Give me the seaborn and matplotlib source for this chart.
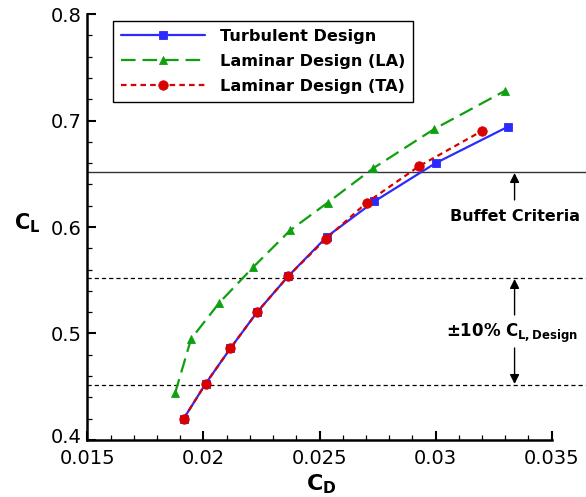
import matplotlib
matplotlib.use("Agg")
import matplotlib.pyplot as plt
import matplotlib.transforms as mtransforms
import seaborn as sns
import pandas as pd
from matplotlib.ticker import MultipleLocator

# Drag polar data: lift coefficient vs drag coefficient
cd_turb = [0.01915, 0.0201, 0.02116, 0.02231, 0.02366, 0.02532, 0.02736, 0.0300, 0.0331]
cl_turb = [0.420, 0.453, 0.486, 0.520, 0.554, 0.591, 0.624, 0.660, 0.694]

cd_la = [0.01878, 0.01947, 0.02069, 0.02213, 0.02374, 0.02536, 0.0273, 0.02994, 0.0330]
cl_la = [0.444, 0.495, 0.529, 0.562, 0.597, 0.623, 0.655, 0.692, 0.728]

cd_ta = [0.01915, 0.0201, 0.02116, 0.02231, 0.02366, 0.02528, 0.02704, 0.02928, 0.03198]
cl_ta = [0.420, 0.453, 0.486, 0.520, 0.554, 0.589, 0.623, 0.657, 0.690]

series_names = ["Turbulent Design", "Laminar Design (LA)", "Laminar Design (TA)"]

# Reference lift levels
cl_buffet = 0.652
cl_band = [0.452, 0.552]

sns.set_style("ticks")
plt.rcParams["font.family"] = ["DejaVu Sans"]
plt.rcParams["mathtext.fontset"] = "dejavusans"
plt.rcParams["lines.scale_dashes"] = False
for key in ["text.color", "axes.labelcolor", "xtick.color", "ytick.color",
            "axes.edgecolor"]:
    plt.rcParams[key] = "black"

fig = plt.figure(figsize=(5.86, 4.97), dpi=100)
ax = fig.add_axes([0.149, 0.1147, 0.7925, 0.8571])

styles = [
    dict(color="#2b2bff", marker="s", ms=5.6, ls="-"),
    dict(color="#0fa00f", marker="^", ms=6.2, ls=(0, (10.5, 5.0))),
    dict(color="#d80000", marker="o", ms=6.8, ls=(0, (4.0, 3.0))),
]
for name, cd, cl, st in zip(series_names, [cd_turb, cd_la, cd_ta],
                            [cl_turb, cl_la, cl_ta], styles):
    df = pd.DataFrame({"CD": cd, "CL": cl})
    sns.lineplot(data=df, x="CD", y="CL", ax=ax, sort=False, estimator=None,
                 color=st["color"], marker=st["marker"], markersize=st["ms"],
                 markeredgecolor=st["color"], markeredgewidth=0.6,
                 linestyle=st["ls"], linewidth=1.6, label=name, zorder=3)

# Buffet criterion and design lift band
ax.axhline(cl_buffet, xmin=0, xmax=1.075, color="#333333", lw=1.0,
           clip_on=False, zorder=2)
for y in cl_band:
    ax.axhline(y, xmin=0, xmax=1.075, color="black", lw=0.9,
               ls=(0, (3.0, 2.2)), clip_on=False, zorder=2)

arrow_kw = dict(arrowstyle="-|>", color="black", lw=1.0,
                mutation_scale=14, shrinkA=0, shrinkB=0)
ax.annotate("", xy=(0.0334, 0.6507), xytext=(0.0334, 0.6254),
            arrowprops=arrow_kw)
ax.annotate("", xy=(0.0334, 0.5512), xytext=(0.0334, 0.5174),
            arrowprops=arrow_kw)
ax.annotate("", xy=(0.0334, 0.4526), xytext=(0.0334, 0.4864),
            arrowprops=arrow_kw)

ax.text(0.0334, 0.6103, "Buffet Criteria", ha="center", va="center",
        fontsize=11.5, fontweight="bold")
ax.text(0.0333, 0.5005, r"$\mathbf{\pm 10\%\ C_{L,Design}}$", ha="center",
        va="center", fontsize=12)

ax.set_xlim(0.015, 0.035)
ax.set_ylim(0.4, 0.8)
ax.xaxis.set_minor_locator(MultipleLocator(0.001))
ax.yaxis.set_minor_locator(MultipleLocator(0.02))
ax.set_xticks([0.015, 0.02, 0.025, 0.03, 0.035])
ax.set_xticklabels(["0.015", "0.02", "0.025", "0.03", "0.035"])
ax.set_yticks([0.4, 0.5, 0.6, 0.7, 0.8])
ax.set_yticklabels(["0.4", "0.5", "0.6", "0.7", "0.8"])

ax.tick_params(which="both", direction="in", top=False, right=False,
               color="black", labelcolor="black", labelsize=14)
ax.tick_params(which="major", length=6.5, width=1.5)
ax.tick_params(which="minor", length=3.6, width=0.9)
ax.tick_params(axis="x", which="major", pad=6.3)
ax.tick_params(axis="y", which="major", pad=4)

# lift the lowest y label slightly so it clears the first x label
lowest = ax.get_yticklabels()[0]
lowest.set_transform(lowest.get_transform() +
                     mtransforms.ScaledTranslation(0, 3 / 72, fig.dpi_scale_trans))

for side in ["top", "right"]:
    ax.spines[side].set_visible(False)
for side in ["left", "bottom"]:
    ax.spines[side].set_linewidth(1.8)
    ax.spines[side].set_color("black")

ax.set_xlabel(r"$\mathbf{C_D}$", fontsize=16)
ax.xaxis.set_label_coords(0.503, -0.077)
ax.set_ylabel(r"$\mathbf{C_L}$", fontsize=15, rotation=0, ha="center",
              va="center")
ax.yaxis.set_label_coords(-0.129, 0.508)

leg = ax.legend(loc="upper left", bbox_to_anchor=(0.0547, 0.9836),
                frameon=True, fancybox=False, framealpha=1, edgecolor="black",
                prop=dict(weight="bold", size=11.6), handlelength=5.2,
                handletextpad=0.95, labelspacing=0.62, borderpad=0.5,
                borderaxespad=0)
leg.get_frame().set_linewidth(1.0)
for t in leg.get_texts():
    t.set_color("black")

fig.savefig("out.png", dpi=100)
